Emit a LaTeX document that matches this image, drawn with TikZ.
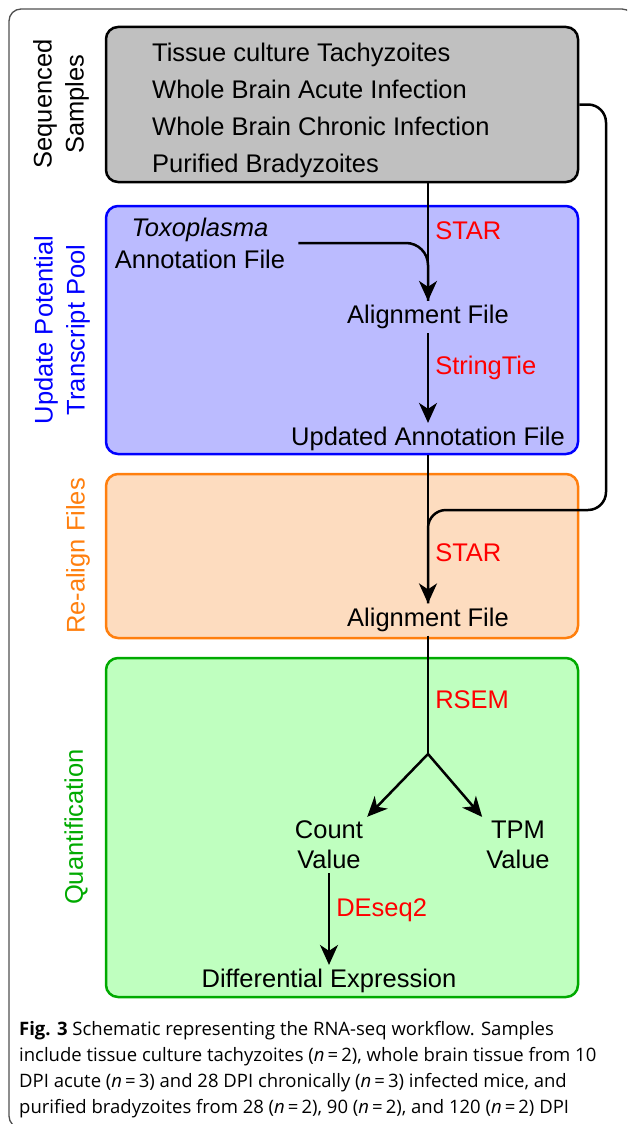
\documentclass[tikz,border=0pt]{standalone}
\usepackage{fontspec}
\setmainfont{Liberation Sans}
\newfontfamily\capfont{Open Sans}
\usetikzlibrary{positioning, arrows.meta, calc}
\definecolor{smgray}{HTML}{C0C0C0}
\definecolor{upfill}{HTML}{BBBBFF}
\definecolor{upline}{HTML}{0000FF}
\definecolor{refill}{HTML}{FDDCBF}
\definecolor{reline}{HTML}{FF7F0E}
\definecolor{qufill}{HTML}{BFFFBF}
\definecolor{quline}{HTML}{00AA00}
\definecolor{toolred}{HTML}{FF0000}
\definecolor{framegray}{HTML}{505050}

\begin{document}
\begin{tikzpicture}[x=1pt, y=-1pt,
  stage/.style={draw, line width=2.5pt, rounded corners=12pt, minimum width=472pt, inner sep=0pt},
  stagelbl/.style={rotate=90, align=center, inner sep=0pt, font=\fontsize{25.5}{32}\selectfont},
  txt/.style={align=center, inner sep=4pt, font=\fontsize{25.5}{30}\selectfont},
  tool/.style={text=toolred, anchor=west, inner sep=0pt, xshift=6pt, font=\fontsize{25.5}{30}\selectfont},
  link/.style={line width=2.5pt, black},
  arr/.style={line width=2.5pt, black, -{Stealth[length=20pt, width=18pt, inset=6pt]}}
]
  \useasboundingbox (0,0) rectangle (627,1124);
  \begin{scope}
    \clip (0,0) rectangle (627,1124);
    \draw[framegray, line width=1.3pt, rounded corners=12pt] (9,9) rectangle (634,1128);
  \end{scope}

  % stages
  \node[stage, fill=smgray, minimum height=155pt] (samples) at (342,104.5) {};
  \node[stage, draw=upline, fill=upfill, minimum height=248pt] (update) at (342,330) {};
  \node[stage, draw=reline, fill=refill, minimum height=164pt] (realign) at (342,556) {};
  \node[stage, draw=quline, fill=qufill, minimum height=339pt] (quant) at (342,827.5) {};

  \node[stagelbl] (samplesLbl) at (61,104) {Sequenced\\Samples};
  \node[stagelbl, text=upline] (updateLbl) at (62,330) {Update Potential\\Transcript Pool};
  \node[stagelbl, text=reline] (realignLbl) at (78,556) {Re-align Files};
  \node[stagelbl, text=quline] (quantLbl) at (76,827) {Quantification};

  % files
  \node[anchor=west, align=left, inner sep=0pt, font=\fontsize{25.5}{37}\selectfont] (sampleList) at (152,110)
    {Tissue culture Tachyzoites\\Whole Brain Acute Infection\\Whole Brain Chronic Infection\\Purified Bradyzoites};
  \node[txt, inner xsep=13pt, font=\fontsize{25.5}{32}\selectfont] (toxo) at (200,243) {\textit{Toxoplasma}\\Annotation File};
  \node[txt] (align1) at (428,317) {Alignment File};
  \node[txt] (updated) at (428,439) {Updated Annotation File};
  \node[txt] (align2) at (428,619.5) {Alignment File};
  \node[txt] (count) at (329,845) {Count\\Value};
  \node[txt] (tpm) at (518,845) {TPM\\Value};
  \node[txt] (diff) at (329,981) {Differential Expression};

  \coordinate (loopTop) at (606,104.5);
  \coordinate (loopBot) at (606,510);
  \coordinate (fork) at (428,754);

  % flow
  \draw[link, rounded corners=22pt] (toxo.east) -| (align1.north);
  \draw[arr] (samples.south -| align1.north) -- node[tool, pos=0.4] (star1) {STAR} (align1.north);
  \draw[arr] (align1.south) -- node[tool, pos=0.39] (stringtie) {StringTie} (updated.north);
  \draw[link, rounded corners=18pt] (samples.east) -- (loopTop) -- (loopBot) -| (align2.north);
  \draw[arr] (updated.south) -- node[tool, pos=0.66] (star2) {STAR} (align2.north);
  \draw[link] (align2.south) -- node[tool, pos=0.54] (rsem) {RSEM} (fork);
  \draw[arr] (fork) -- (count.north east);
  \draw[arr] (fork) -- (tpm.north west);
  \draw[arr] (count.south) -- node[tool, pos=0.4] (deseq) {DEseq2} (diff.north);

  % caption
  \node[anchor=north west, align=left, inner sep=0pt, font=\capfont\fontsize{18.5}{26}\selectfont] (caption) at (19,1021)
    {\textbf{Fig. 3} Schematic representing the RNA-seq workflow. Samples\\
     include tissue culture tachyzoites (\textit{n}\,=\,2), whole brain tissue from 10\\
     DPI acute (\textit{n}\,=\,3) and 28 DPI chronically (\textit{n}\,=\,3) infected mice, and\\
     purified bradyzoites from 28 (\textit{n}\,=\,2), 90 (\textit{n}\,=\,2), and 120 (\textit{n}\,=\,2) DPI};
\end{tikzpicture}
\end{document}
